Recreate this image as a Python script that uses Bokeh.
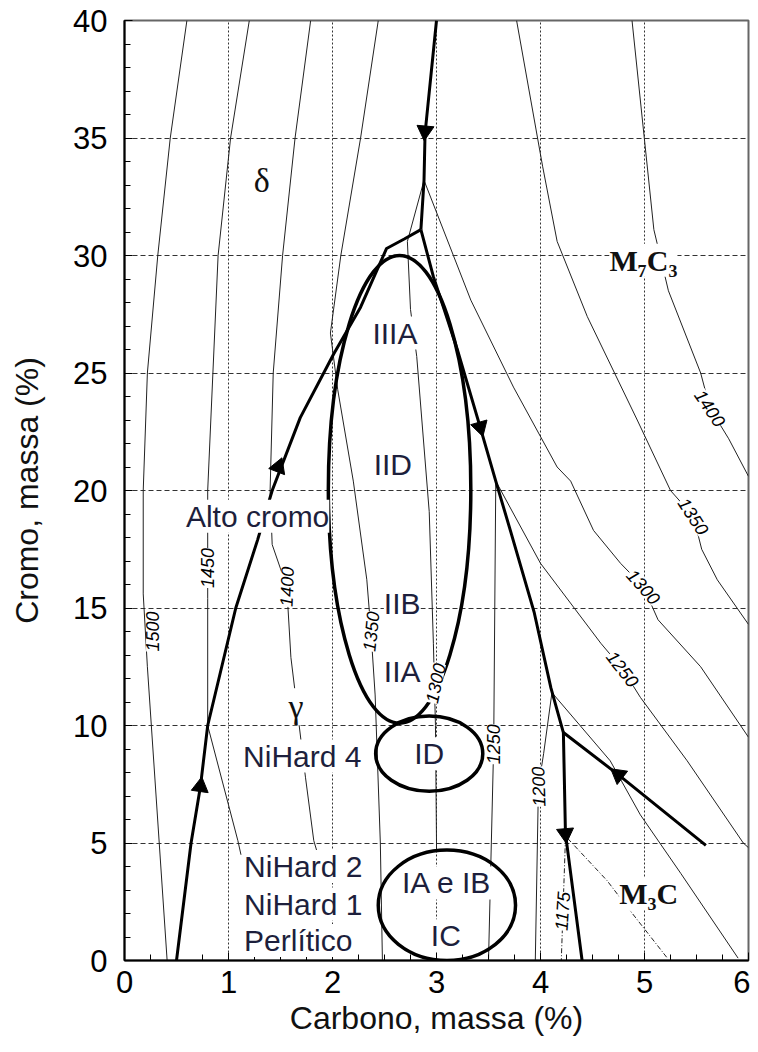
import numpy as np
from bokeh.plotting import figure
from bokeh.models import Range1d, FixedTicker, Label
from bokeh.embed import file_html
from bokeh.resources import INLINE

# ---------------- data (carbon %, chromium %) ----------------
# thick monovariant lines
thickA_x = [0.50, 0.64, 0.73, 0.80, 1.07, 1.28, 1.42, 1.69, 2.01, 2.27, 2.52, 2.69, 2.85]
thickA_y = [0.0, 5.0, 7.4, 10.0, 15.0, 17.9, 20.0, 23.1, 25.8, 27.8, 30.3, 30.7, 31.1]
thickB_x = [3.00, 2.89, 2.88, 2.85]
thickB_y = [40.0, 35.2, 33.2, 31.1]
thickC_x = [2.85, 2.97, 3.20, 3.42, 3.57, 3.71, 3.94, 4.10, 4.22, 4.24, 4.40]
thickC_y = [31.1, 29.1, 26.0, 22.7, 20.4, 18.3, 14.8, 11.6, 9.7, 5.4, 0.0]
thickD_x = [4.22, 4.75, 5.59]
thickD_y = [9.7, 7.9, 4.9]

# arrows on the thick lines
arrow_x = [0.73, 1.48, 2.89, 3.42, 4.24, 4.75]
arrow_y = [7.4, 21.0, 35.3, 22.7, 5.4, 7.9]
arrow_deg = [-8, -21, 175, 196, 185, 52]

# liquidus isotherms (thin solid)
iso_1500_x = [0.60, 0.44, 0.32, 0.22, 0.18, 0.18, 0.22, 0.41]
iso_1500_y = [40.0, 35.0, 30.0, 25.0, 20.0, 15.6, 12.5, 0.0]
iso_1450_x = [1.20, 1.02, 0.90, 0.85, 0.80, 0.80, 0.80, 1.09, 1.12]
iso_1450_y = [40.0, 35.0, 30.0, 25.0, 20.0, 15.4, 10.0, 5.1, 4.5]
iso_1400_x = [1.79, 1.64, 1.52, 1.43, 1.40, 1.42, 1.56, 1.60, 1.74, 1.82, 1.86]
iso_1400_y = [40.0, 35.0, 30.0, 25.0, 20.0, 17.7, 15.9, 12.9, 7.8, 5.1, 4.5]
iso_1350_x = [2.44, 2.27, 2.08, 1.98, 2.05, 2.20, 2.33, 2.37, 2.41, 2.46, 2.48]
iso_1350_y = [40.0, 35.0, 30.0, 26.7, 24.3, 20.4, 16.2, 14.0, 11.3, 5.0, 0.0]
iso_1300_x = [2.88, 2.72, 2.75, 2.81, 2.93, 2.97, 2.99, 3.00, 3.00]
iso_1300_y = [33.2, 30.6, 27.7, 25.7, 19.1, 13.5, 10.0, 5.0, 4.7]
iso_1250_x = [3.57, 3.55, 3.50]
iso_1250_y = [20.4, 9.2, 0.0]
iso_1200_x = [4.11, 4.03, 3.98, 3.95]
iso_1200_y = [11.4, 8.8, 7.4, 0.0]
isoR_1400_x = [4.88, 5.09, 5.23, 5.54, 5.63, 5.81, 6.00]
isoR_1400_y = [40.0, 31.1, 28.5, 25.0, 23.5, 22.2, 20.6]
isoR_1350_x = [3.77, 4.02, 4.16, 4.45, 4.93, 5.25, 5.47, 5.55, 5.70, 6.00]
isoR_1350_y = [40.0, 33.8, 30.6, 27.4, 23.0, 20.0, 18.9, 17.5, 16.2, 14.3]
isoR_1300_x = [2.88, 3.33, 3.74, 4.16, 4.29, 4.51, 4.77, 4.99, 5.13, 5.54, 6.00]
isoR_1300_y = [33.2, 28.1, 24.4, 21.0, 20.4, 18.3, 16.9, 15.9, 14.5, 12.5, 9.5]
isoR_1250_x = [3.57, 4.00, 4.58, 4.79, 4.96, 5.41, 5.95, 6.00]
isoR_1250_y = [20.4, 16.9, 13.5, 12.4, 11.2, 8.5, 5.0, 4.8]
isoR_1200_x = [4.11, 4.67, 4.96, 5.35, 5.90]
isoR_1200_y = [11.4, 8.5, 6.2, 3.7, 0.1]
# dash-dot isotherms (M3C field)
iso_1175_x = [4.24, 4.20]
iso_1175_y = [5.2, 0.0]
iso_1150_x = [4.26, 4.64, 4.83, 5.22]
iso_1150_y = [5.2, 3.4, 2.3, 0.1]

# composition ellipses: centre, width, height
ell_x = [2.645, 2.93, 3.10]
ell_y = [20.05, 8.8, 2.35]
ell_w = [1.37, 1.03, 1.32]
ell_h = [19.9, 3.2, 4.7]

# isotherm labels
iso_lab_text = ["1500", "1450", "1400", "1350", "1300", "1250", "1200", "1175",
                "1400", "1350", "1300", "1250"]
iso_lab_x = [0.27, 0.80, 1.56, 2.37, 2.99, 3.55, 3.98, 4.21, 5.63, 5.47, 4.99, 4.79]
iso_lab_y = [14.0, 16.7, 15.9, 14.0, 11.8, 9.2, 7.4, 2.1, 23.5, 18.9, 15.9, 12.4]
iso_lab_deg = [90, 90, 88, 84, 78, 90, 92, 86, -56, -57, -48, -52]

# alloy / region labels
reg_text = ["IIIA", "IID", "IIB", "IIA", "ID", "IA e IB", "IC", "Alto cromo"]
reg_x = [2.60, 2.58, 2.67, 2.67, 2.93, 3.10, 3.09, 1.28]
reg_y = [26.7, 21.1, 15.2, 12.3, 8.8, 3.3, 1.05, 18.9]
left_text = ["NiHard 4", "NiHard 2", "NiHard 1", "Perlítico"]
left_x = [1.14, 1.15, 1.15, 1.15]
left_y = [8.7, 4.0, 2.4, 0.85]
phase_text = ["δ", "γ", "M₇C₃", "M₃C"]
phase_x = [1.32, 1.65, 4.99, 5.04]
phase_y = [33.2, 10.8, 29.8, 2.85]

x_ticks = [0, 1, 2, 3, 4, 5, 6]
y_ticks = [0, 5, 10, 15, 20, 25, 30, 35, 40]
x_minor = [i * 0.25 for i in range(25)]
y_minor = list(range(41))

# ---------------- figure ----------------
SANS = "Liberation Sans"
SERIF = "Liberation Serif"
TXT = "#1d1f3c"

p = figure(width=750, height=1050, output_backend="svg", toolbar_location=None,
           x_range=Range1d(0, 6), y_range=Range1d(0, 40),
           min_border_left=124, min_border_right=2, min_border_top=20,
           min_border_bottom=90)
p.background_fill_color = "white"
p.border_fill_color = "white"
p.outline_line_color = "#666666"
p.outline_line_width = 2

p.xaxis.ticker = FixedTicker(ticks=x_ticks, minor_ticks=x_minor)
p.yaxis.ticker = FixedTicker(ticks=y_ticks, minor_ticks=y_minor)
for ax in (p.xaxis[0], p.yaxis[0]):
    ax.axis_line_width = 2
    ax.axis_line_color = "black"
    ax.major_tick_in = 8
    ax.major_tick_out = 0
    ax.minor_tick_in = 6
    ax.minor_tick_out = 0
    ax.major_tick_line_color = "black"
    ax.minor_tick_line_color = "black"
    ax.major_label_text_font = SANS
    ax.major_label_text_font_size = "31px"
    ax.major_label_text_color = "black"
    ax.axis_label_text_font = SANS
    ax.axis_label_text_font_style = "normal"
    ax.axis_label_text_color = "#111111"

p.xaxis.axis_label = "Carbono, massa (%)"
p.yaxis.axis_label = "Cromo, massa (%)"
p.xaxis.axis_label_text_font_size = "32px"
p.yaxis.axis_label_text_font_size = "32px"
p.xaxis.major_label_standoff = 10
p.xaxis.axis_label_standoff = 4
p.yaxis.major_label_standoff = 17
p.yaxis.axis_label_standoff = 25

p.xgrid.grid_line_color = "#333333"
p.xgrid.grid_line_dash = "2 2"
p.xgrid.grid_line_width = 1
p.ygrid.grid_line_color = "#333333"
p.ygrid.grid_line_dash = "5 3"
p.ygrid.grid_line_width = 1

thin = dict(line_color="#222222", line_width=1)
for xs, ys in [(iso_1500_x, iso_1500_y), (iso_1450_x, iso_1450_y), (iso_1400_x, iso_1400_y),
               (iso_1350_x, iso_1350_y), (iso_1300_x, iso_1300_y), (iso_1250_x, iso_1250_y),
               (iso_1200_x, iso_1200_y), (isoR_1400_x, isoR_1400_y), (isoR_1350_x, isoR_1350_y),
               (isoR_1300_x, isoR_1300_y), (isoR_1250_x, isoR_1250_y), (isoR_1200_x, isoR_1200_y)]:
    p.line(xs, ys, **thin)
for xs, ys in [(iso_1175_x, iso_1175_y), (iso_1150_x, iso_1150_y)]:
    p.line(xs, ys, line_color="#222222", line_width=1, line_dash="5 2 1 2")

thick = dict(line_color="black", line_width=3, line_join="round")
for xs, ys in [(thickA_x, thickA_y), (thickB_x, thickB_y), (thickC_x, thickC_y), (thickD_x, thickD_y)]:
    p.line(xs, ys, **thick)

p.scatter(arrow_x, arrow_y, marker="triangle", size=17, angle=np.radians(arrow_deg),
          fill_color="black", line_color="black")

p.ellipse(x=ell_x, y=ell_y, width=ell_w, height=ell_h, fill_color=None,
          line_color="black", line_width=3.5)

for t, x, y, a in zip(iso_lab_text, iso_lab_x, iso_lab_y, iso_lab_deg):
    p.add_layout(Label(x=x, y=y, text=t, angle=a, angle_units="deg",
                       text_font=SANS, text_font_style="italic", text_font_size="18px",
                       text_align="center", text_baseline="middle", text_color="black",
                       background_fill_color="white"))

for t, x, y in zip(reg_text, reg_x, reg_y):
    p.add_layout(Label(x=x, y=y, text=t, text_font=SANS, text_font_size="30px",
                       text_align="center", text_baseline="middle", text_color=TXT,
                       background_fill_color="white"))

for t, x, y in zip(left_text, left_x, left_y):
    p.add_layout(Label(x=x, y=y, text=t, text_font=SANS, text_font_size="30px",
                       text_align="left", text_baseline="middle", text_color=TXT,
                       background_fill_color="white"))

phase_size = ["34px", "34px", "30px", "30px"]
phase_style = ["normal", "normal", "bold", "bold"]
for t, x, y, s, st in zip(phase_text, phase_x, phase_y, phase_size, phase_style):
    p.add_layout(Label(x=x, y=y, text=t, text_font=SERIF, text_font_size=s,
                       text_font_style=st, text_align="center", text_baseline="middle",
                       text_color="#111111", background_fill_color="white"))

open("out.html", "w").write(file_html(p, INLINE))
